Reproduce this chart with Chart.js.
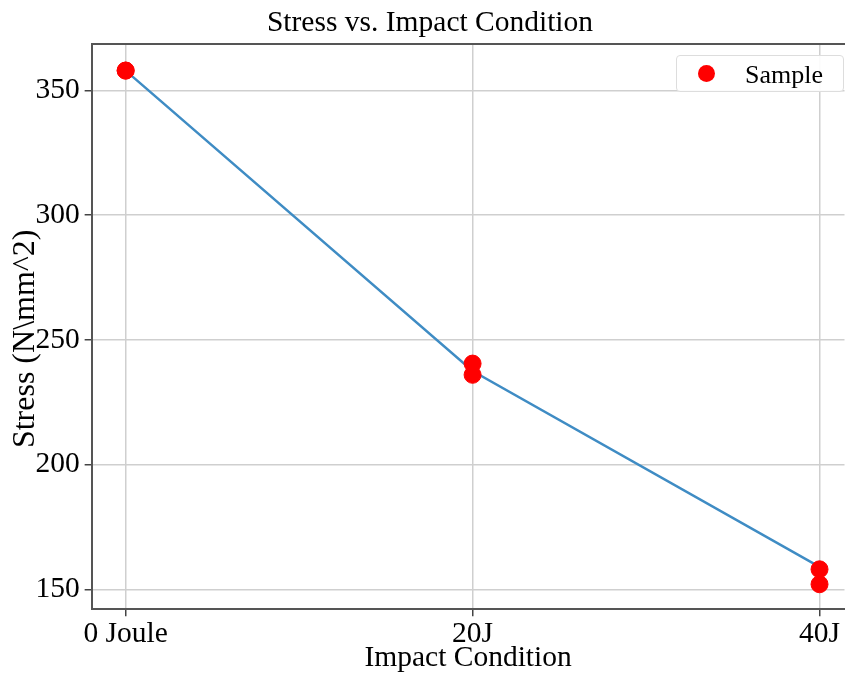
<!DOCTYPE html>
<html>
<head>
<meta charset="utf-8">
<script src="https://cdn.jsdelivr.net/npm/chart.js@4.4.1/dist/chart.umd.min.js"></script>
<style>
    html, body { margin: 0; padding: 0; background: #fff; overflow: hidden; }
    #wrap { position: relative; width: 845px; height: 674px; overflow: hidden; }
    #legend {
        position: absolute; left: 676px; top: 55px; width: 168px; height: 37px;
        border: 1px solid #ddd; border-radius: 4px; background: rgba(255,255,255,0.9);
        font-family: "Liberation Serif", "Times New Roman", serif; font-size: 26px; color: #000;
        box-sizing: border-box;
    }
    #legend .dot {
        position: absolute; left: 21px; top: 9px; width: 17px; height: 17px;
        border-radius: 50%; background: #ff0000;
    }
    #legend .txt { position: absolute; left: 68px; top: 4px; }
</style>
</head>
<body>
<div id="wrap">
    <canvas id="stressChart" width="854" height="674"></canvas>
    <div id="legend"><span class="dot"></span><span class="txt">Sample</span></div>
</div>
<script>
const categories = ["0 Joule", "20J", "40J"];
const sampleX = [0, 0, 1, 1, 2, 2];
const sampleStress = [358, 358, 240.5, 236, 158, 152];
const lineStress = [358, 237.5, 159];
const yTicks = [150, 200, 250, 300, 350];

const serif = "'Liberation Serif', 'Times New Roman', serif";

const ctx = document.getElementById("stressChart").getContext("2d");

new Chart(ctx, {
    type: "scatter",
    data: {
        datasets: [
            {
                label: "Sample",
                data: sampleX.map((x, i) => ({ x: x, y: sampleStress[i] })),
                backgroundColor: "#ff0000",
                borderColor: "#ff0000",
                pointRadius: 8.5,
                order: 0
            },
            {
                label: "Trend",
                type: "line",
                data: lineStress.map((v, i) => ({ x: i, y: v })),
                borderColor: "#3f8cc4",
                borderWidth: 2.5,
                pointRadius: 0,
                fill: false,
                order: 1
            }
        ]
    },
    options: {
        responsive: false,
        animation: false,
        layout: { padding: { left: 6, right: 0, top: 4, bottom: 0 } },
        plugins: {
            legend: { display: false },
            tooltip: { enabled: false },
            title: {
                display: true,
                text: "Stress vs. Impact Condition",
                color: "#000",
                font: { family: serif, size: 29.5, weight: "normal" },
                padding: { top: 2, bottom: 3 }
            }
        },
        scales: {
            x: {
                type: "linear",
                min: -0.098,
                max: 2.072,
                afterBuildTicks: axis => { axis.ticks = categories.map((c, i) => ({ value: i })); },
                ticks: {
                    color: "#000",
                    font: { family: serif, size: 29.5 },
                    padding: 0,
                    callback: v => categories[v]
                },
                grid: { color: "#cfcfcf", lineWidth: 1.5, tickLength: 7, tickColor: "#444" },
                border: { color: "#555", width: 2 },
                title: {
                    display: true,
                    text: "Impact Condition",
                    color: "#000",
                    font: { family: serif, size: 29.5 },
                    padding: { top: -11, bottom: -2 }
                }
            },
            xTop: {
                type: "linear",
                position: "top",
                min: -0.098,
                max: 2.072,
                ticks: { display: false },
                grid: { display: false, drawTicks: false },
                border: { display: true, color: "#555", width: 2 }
            },
            y: {
                min: 142,
                max: 368.5,
                afterBuildTicks: axis => { axis.ticks = yTicks.map(v => ({ value: v })); },
                ticks: {
                    color: "#000",
                    font: { family: serif, size: 29.5 },
                    padding: 5
                },
                grid: { color: "#cfcfcf", lineWidth: 1.5, tickLength: 7, tickColor: "#444" },
                border: { color: "#555", width: 2 },
                title: {
                    display: true,
                    text: "Stress (N\\mm^2)   ",
                    color: "#000",
                    font: { family: serif, size: 32 },
                    padding: { top: 0, bottom: -14 }
                }
            }
        }
    }
});
</script>
</body>
</html>
